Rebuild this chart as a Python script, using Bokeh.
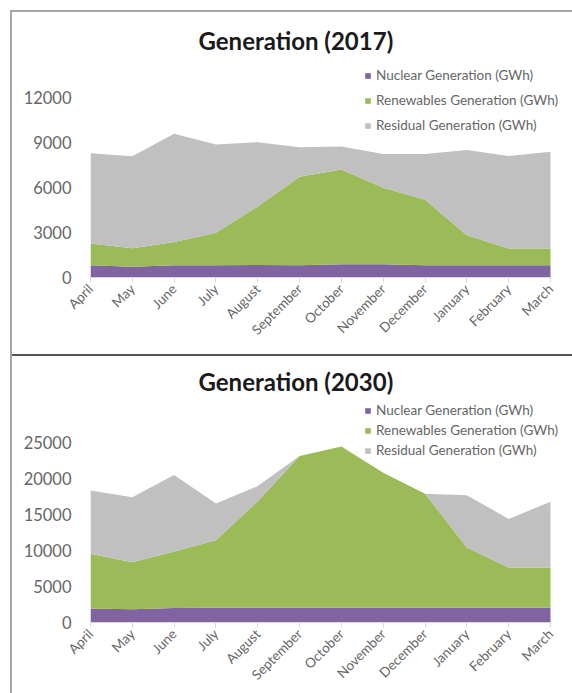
import math
from bokeh.plotting import figure
from bokeh.models import ColumnDataSource, FixedTicker, Range1d, Div, Spacer
from bokeh.layouts import column, row
from bokeh.embed import file_html
from bokeh.resources import INLINE

months = ["April", "May", "June", "July", "August", "September", "October",
          "November", "December", "January", "February", "March"]

series_names = ["Nuclear Generation (GWh)", "Renewables Generation (GWh)", "Residual Generation (GWh)"]
colors = ["#8064a2", "#9bbb59", "#c0c0c0"]

nuclear_2017 = [820, 720, 820, 820, 830, 820, 880, 880, 820, 820, 820, 820]
renewables_2017 = [1440, 1230, 1550, 2160, 3910, 5900, 6320, 5100, 4370, 2000, 1110, 1110]
residual_2017 = [6020, 6130, 7220, 5890, 4280, 1960, 1530, 2250, 3040, 5680, 6170, 6460]
yticks_2017 = [0, 3000, 6000, 9000, 12000]

nuclear_2030 = [1950, 1850, 2000, 2050, 2050, 2050, 2050, 2050, 2050, 2050, 2050, 2050]
renewables_2030 = [7590, 6530, 7870, 9360, 14800, 21090, 22390, 18750, 15830, 8380, 5590, 5590]
residual_2030 = [8800, 9030, 10610, 5120, 2100, 0, 0, 0, 0, 7260, 6750, 9120]
yticks_2030 = [0, 5000, 10000, 15000, 20000, 25000]

FONT = "Lato"
TXT = "#666666"

# plot frame: 460 px between first and last month, extended 22 px to the right
# so that the legend (drawn inside the frame) is not clipped
X_END = (len(months) - 1) * (482 / 460)


def make_panel(title, nuc, ren, res, yticks, y_end, height, top, bottom,
               legend_loc, legend_spacing, title_standoff):
    src = ColumnDataSource(dict(x=list(range(len(months))), nuclear=nuc,
                                renewables=ren, residual=res))
    p = figure(width=560, height=height, output_backend="svg", toolbar_location=None,
               x_range=Range1d(0, X_END), y_range=Range1d(0, y_end),
               min_border_left=78, min_border_right=0, min_border_top=top,
               min_border_bottom=bottom)
    p.title.text = title
    p.title.text_font = FONT
    p.title.text_font_size = "24px"
    p.title.text_font_style = "bold"
    p.title.text_color = "#1a1a1a"
    p.title.align = "left"
    p.title.offset = 108
    p.title.standoff = title_standoff

    p.varea_stack(stackers=["nuclear", "renewables", "residual"], x="x", source=src,
                  color=colors, legend_label=series_names)

    p.xgrid.visible = False
    p.ygrid.visible = False
    p.outline_line_color = None
    p.background_fill_color = "white"
    p.border_fill_color = "white"

    xa = p.xaxis[0]
    xa.ticker = FixedTicker(ticks=list(range(len(months))))
    xa.bounds = (0, len(months) - 1)
    xa.major_label_overrides = {i: m for i, m in enumerate(months)}
    xa.major_label_orientation = math.pi / 4
    xa.axis_line_color = "#d9d9d9"
    xa.major_tick_line_color = "#d9d9d9"
    xa.major_tick_in = 0
    xa.major_tick_out = 5
    xa.minor_tick_line_color = None
    xa.major_label_text_font = FONT
    xa.major_label_text_font_size = "13.5px"
    xa.major_label_text_color = TXT
    xa.major_label_standoff = 4

    ya = p.yaxis[0]
    ya.ticker = FixedTicker(ticks=yticks)
    ya.axis_line_color = None
    ya.major_tick_line_color = None
    ya.minor_tick_line_color = None
    ya.major_tick_in = 0
    ya.major_tick_out = 0
    ya.major_label_standoff = 19
    ya.major_label_text_font = FONT
    ya.major_label_text_font_size = "16.5px"
    ya.major_label_text_color = TXT

    lg = p.legend[0]
    lg.location = legend_loc
    lg.border_line_color = None
    lg.background_fill_alpha = 0
    lg.padding = 0
    lg.margin = 0
    lg.glyph_width = 7
    lg.glyph_height = 7
    lg.label_standoff = 5
    lg.label_height = 20
    lg.spacing = legend_spacing
    lg.label_text_font = FONT
    lg.label_text_font_size = "13.5px"
    lg.label_text_color = TXT
    return p


def bar(w, h, color):
    return Div(text="", width=w, height=h, margin=0,
               styles={"background-color": color})


p1 = make_panel("Generation (2017)", nuclear_2017, renewables_2017, residual_2017,
                yticks_2017, 14467, 342, 48, 77, (274, 142), 5, 12)
p2 = make_panel("Generation (2030)", nuclear_2030, renewables_2030, residual_2030,
                yticks_2030, 30833, 337, 44, 71, (274, 162), 0, 10)

charts = column(p1, bar(560, 2, "#555555"), p2, spacing=0)
layout = column(
    Spacer(width=572, height=10, margin=0),
    row(Spacer(width=10, height=2, margin=0), bar(562, 2, "#a6a6a6"), spacing=0),
    row(Spacer(width=10, height=681, margin=0), bar(2, 681, "#a6a6a6"), charts, spacing=0),
    spacing=0,
)
open("out.html", "w").write(file_html(layout, INLINE))
